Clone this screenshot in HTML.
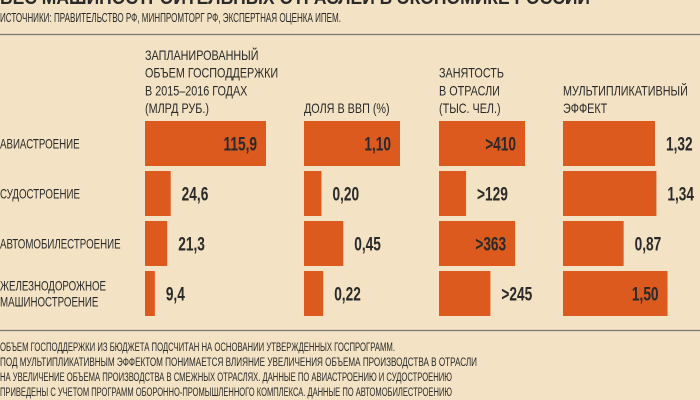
<!DOCTYPE html>
<html><head><meta charset="utf-8">
<style>
html,body{margin:0;padding:0;background:#f3e2c3;}
svg{display:block;font-family:"Liberation Sans Narrow","Liberation Sans","Noto Sans CJK SC",sans-serif;}
</style></head>
<body>
<svg id="chart" width="700" height="400" viewBox="0 0 700 400" xmlns="http://www.w3.org/2000/svg">
<rect width="700" height="400" fill="#f3e2c3"/>
<text x="0" y="4" font-size="19" font-weight="bold" fill="#2a2a2a" textLength="590" lengthAdjust="spacingAndGlyphs">ВЕС МАШИНОСТРОИТЕЛЬНЫХ ОТРАСЛЕЙ В ЭКОНОМИКЕ РОССИИ</text>
<text x="0" y="22" font-size="13" fill="#2a2a2a" textLength="341" lengthAdjust="spacingAndGlyphs">ИСТОЧНИКИ: ПРАВИТЕЛЬСТВО РФ, МИНПРОМТОРГ РФ, ЭКСПЕРТНАЯ ОЦЕНКА ИПЕМ.</text>
<line x1="0" y1="34.5" x2="700" y2="34.5" stroke="#777" stroke-width="1.2"/>
<g id="headers" font-size="13.5" fill="#2a2a2a"></g>
<g id="rows"></g>
<line x1="0" y1="330.5" x2="700" y2="330.5" stroke="#777" stroke-width="1.2"/>
<g font-size="11.5" fill="#2a2a2a">
<text x="0" y="351" textLength="395" lengthAdjust="spacingAndGlyphs">ОБЪЕМ ГОСПОДДЕРЖКИ ИЗ БЮДЖЕТА ПОДСЧИТАН НА ОСНОВАНИИ УТВЕРЖДЕННЫХ ГОСПРОГРАММ.</text>
<text x="0" y="366" textLength="477" lengthAdjust="spacingAndGlyphs">ПОД МУЛЬТИПЛИКАТИВНЫМ ЭФФЕКТОМ ПОНИМАЕТСЯ ВЛИЯНИЕ УВЕЛИЧЕНИЯ ОБЪЕМА ПРОИЗВОДСТВА В ОТРАСЛИ</text>
<text x="0" y="381" textLength="452" lengthAdjust="spacingAndGlyphs">НА УВЕЛИЧЕНИЕ ОБЪЕМА ПРОИЗВОДСТВА В СМЕЖНЫХ ОТРАСЛЯХ. ДАННЫЕ ПО АВИАСТРОЕНИЮ И СУДОСТРОЕНИЮ</text>
<text x="0" y="396" textLength="452" lengthAdjust="spacingAndGlyphs">ПРИВЕДЕНЫ С УЧЕТОМ ПРОГРАММ ОБОРОННО-ПРОМЫШЛЕННОГО КОМПЛЕКСА. ДАННЫЕ ПО АВТОМОБИЛЕСТРОЕНИЮ</text>
</g>
</svg>
<script>
const categories = [["АВИАСТРОЕНИЕ"],["СУДОСТРОЕНИЕ"],["АВТОМОБИЛЕСТРОЕНИЕ"],["ЖЕЛЕЗНОДОРОЖНОЕ","МАШИНОСТРОЕНИЕ"]];
const supportValues = [115.9, 24.6, 21.3, 9.4];
const gdpShareValues = [1.10, 0.20, 0.45, 0.22];
const employmentValues = [410, 129, 363, 245];
const multiplierValues = [1.32, 1.34, 0.87, 1.50];
const supportLabels = ["115,9","24,6","21,3","9,4"];
const gdpShareLabels = ["1,10","0,20","0,45","0,22"];
const employmentLabels = [">410",">129",">363",">245"];
const multiplierLabels = ["1,32","1,34","0,87","1,50"];
const supportInside = [true,false,false,false];
const gdpShareInside = [true,false,false,false];
const employmentInside = [true,false,true,false];
const multiplierInside = [false,false,false,true];
const headerTexts = [
  ["ЗАПЛАНИРОВАННЫЙ","ОБЪЕМ ГОСПОДДЕРЖКИ","В 2015–2016 ГОДАХ","(МЛРД РУБ.)"],
  ["ДОЛЯ В ВВП (%)"],
  ["ЗАНЯТОСТЬ","В ОТРАСЛИ","(ТЫС. ЧЕЛ.)"],
  ["МУЛЬТИПЛИКАТИВНЫЙ","ЭФФЕКТ"]
];

const NS="http://www.w3.org/2000/svg";
const cols = [
  {x0:145, scale:121/115.9, vals:supportValues, labels:supportLabels, inside:supportInside, name:"support"},
  {x0:304, scale:96/1.10, vals:gdpShareValues, labels:gdpShareLabels, inside:gdpShareInside, name:"gdp-share"},
  {x0:439, scale:86/410, vals:employmentValues, labels:employmentLabels, inside:employmentInside, name:"employment"},
  {x0:563, scale:92/1.32, vals:multiplierValues, labels:multiplierLabels, inside:multiplierInside, name:"multiplier"}
];
const rowY = i => 121 + i*50;
const barH = 45;
function mk(tag, attrs, parent){const e=document.createElementNS(NS,tag);for(const k in attrs)e.setAttribute(k,attrs[k]);parent.appendChild(e);return e;}

const hg=document.getElementById('headers');
headerTexts.forEach((lines,c)=>{
  const n=lines.length;
  lines.forEach((t,j)=>{
    const e=mk('text',{x:0,y:0,transform:`translate(${cols[c].x0},${113-(n-1-j)*17.7}) scale(0.8,1)`},hg);
    
    
    e.textContent=t;
  });
});

const rg=document.getElementById('rows');
categories.forEach((lines,i)=>{
  const y=rowY(i)+barH/2;
  lines.forEach((t,j)=>{
    const e=mk('text',{x:0,y:0,transform:`translate(0,${y+5+(j-(lines.length-1)/2)*16}) scale(0.72,1)`,'font-size':13.5,fill:'#2a2a2a'},rg);
    
    
    e.textContent=t;
  });
  cols.forEach(col=>{
    const w=col.vals[i]*col.scale;
    const r=mk('rect',{x:col.x0,y:rowY(i),width:w,height:barH,fill:'#dc5a1e'},rg);
    
    
    const inside=col.inside[i];
    const tx=inside?col.x0+w-9:col.x0+w+11;
    const t=mk('text',{x:0,y:0,transform:`translate(${tx},${y+7}) scale(0.72,1)`,'font-size':19,'font-weight':'bold',fill:'#2a2a2a','text-anchor':inside?'end':'start'},rg);
    
    
    t.textContent=col.labels[i];
  });
});
</script>
</body></html>
